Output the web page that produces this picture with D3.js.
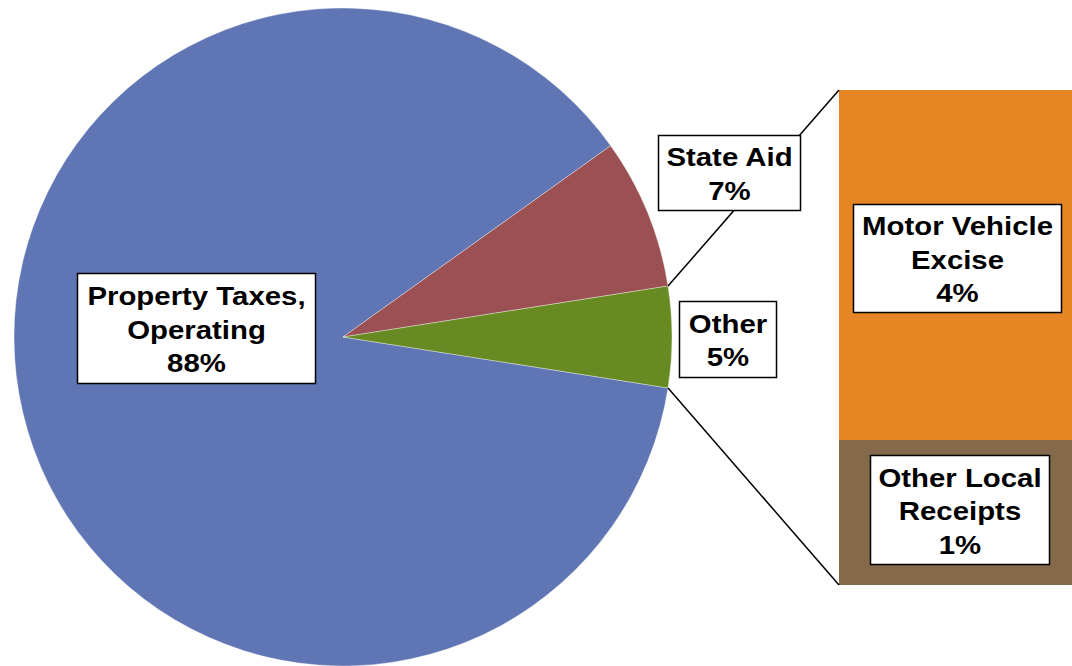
<!DOCTYPE html>
<html><head><meta charset="utf-8">
<script src="https://cdn.jsdelivr.net/npm/d3@7"></script>
<style>html,body{margin:0;padding:0;background:#fff;}svg{display:block;}</style>
</head><body>
<svg id="chart" width="1072" height="666"></svg>
<script>
// ---- data ----
const pieCategories = ["Property Taxes, Operating", "State Aid", "Other"];
const pieLabelLines = [["Property Taxes,", "Operating"], ["State Aid"], ["Other"]];
const pieValues = [87.65, 7.4, 4.95];
const barCategories = ["Motor Vehicle Excise", "Other Local Receipts"];
const barLabelLines = [["Motor Vehicle", "Excise"], ["Other Local", "Receipts"]];
const barValues = [3.5, 1.45];

// ---- style / layout ----
const pieColors = ["#6076b4", "#9b5153", "#678a22"];
const barColors = ["#e58524", "#85694b"];
const cx = 343, cy = 337, R = 329;
const barX0 = 839, barX1 = 1072, barTop = 90, barBottom = 585;
const lineH = 33.5, fontSize = 26, stretch = 1.13, baseOff = 10.5;
const pieBoxes = [
  {x: 77, y: 273, w: 238, h: 110},
  {x: 658, y: 135, w: 142, h: 75},
  {x: 679, y: 301, w: 97, h: 76}
];
const barBoxes = [
  {x: 853, y: 204, w: 208, h: 108},
  {x: 870, y: 455, w: 179, h: 109}
];

const svg = d3.select("#chart");
const total = d3.sum(pieValues);
const otherIdx = 2;
const otherAngle = pieValues[otherIdx] / total * 2 * Math.PI;
const start = Math.PI / 2 + otherAngle / 2;
const pie = d3.pie().sort(null).startAngle(start).endAngle(start + 2 * Math.PI);
const arcs = pie(pieValues);
const arc = d3.arc().innerRadius(0).outerRadius(R);

const g = svg.append("g").attr("transform", `translate(${cx},${cy})`);
g.selectAll("path").data(arcs).join("path")
  .attr("d", arc)
  .attr("fill", (d, i) => pieColors[i])
  .attr("stroke", "#ffffff").attr("stroke-width", 0.6).attr("stroke-opacity", 0.6);

// bar (stacked: last item at bottom)
const barTotal = d3.sum(barValues);
const y = d3.scaleLinear().domain([0, barTotal]).range([barBottom, barTop]);
let acc = 0;
const segs = barValues.map((v, i) => i).reverse().map(i => {
  const s = {i, y0: acc, y1: acc + barValues[i]}; acc += barValues[i]; return s;
});
svg.selectAll("rect.seg").data(segs).join("rect").attr("class", "seg")
  .attr("x", barX0).attr("width", barX1 - barX0)
  .attr("y", d => y(d.y1)).attr("height", d => y(d.y0) - y(d.y1))
  .attr("fill", d => barColors[d.i]);

// connector lines
const oa = arcs[otherIdx];
const pt = a => [cx + R * Math.sin(a), cy - R * Math.cos(a)];
const pTop = pt(oa.startAngle), pBot = pt(oa.endAngle);
svg.append("line").attr("x1", pTop[0]).attr("y1", pTop[1]).attr("x2", barX0).attr("y2", y(barTotal))
  .attr("stroke", "#000").attr("stroke-width", 1.5);
svg.append("line").attr("x1", pBot[0]).attr("y1", pBot[1]).attr("x2", barX0).attr("y2", y(0))
  .attr("stroke", "#000").attr("stroke-width", 1.5);

// labels
function label(box, lines) {
  const lg = svg.append("g");
  lg.append("rect").attr("x", box.x + 0.5).attr("y", box.y + 0.5).attr("width", box.w).attr("height", box.h)
    .attr("fill", "#fff").attr("stroke", "#000").attr("stroke-width", 1.5);
  const mid = box.y + box.h / 2;
  const n = lines.length;
  lines.forEach((t, k) => {
    const bx = box.x + box.w / 2 + 0.5;
    const by = mid + (k - (n - 1) / 2) * lineH + baseOff;
    lg.append("text")
      .attr("transform", `translate(${bx},${by}) scale(${stretch},1)`)
      .attr("text-anchor", "middle")
      .attr("font-family", "Liberation Sans, Arial, sans-serif")
      .attr("font-weight", "bold").attr("font-size", fontSize).attr("fill", "#000")
      .text(t);
  });
}
const pct = (v, t) => Math.round(v / t * 100 + 1e-9) + "%";
pieValues.forEach((v, i) => label(pieBoxes[i], [...pieLabelLines[i], pct(v, total)]));
barValues.forEach((v, i) => label(barBoxes[i], [...barLabelLines[i], pct(v, total)]));
</script>
</body></html>
